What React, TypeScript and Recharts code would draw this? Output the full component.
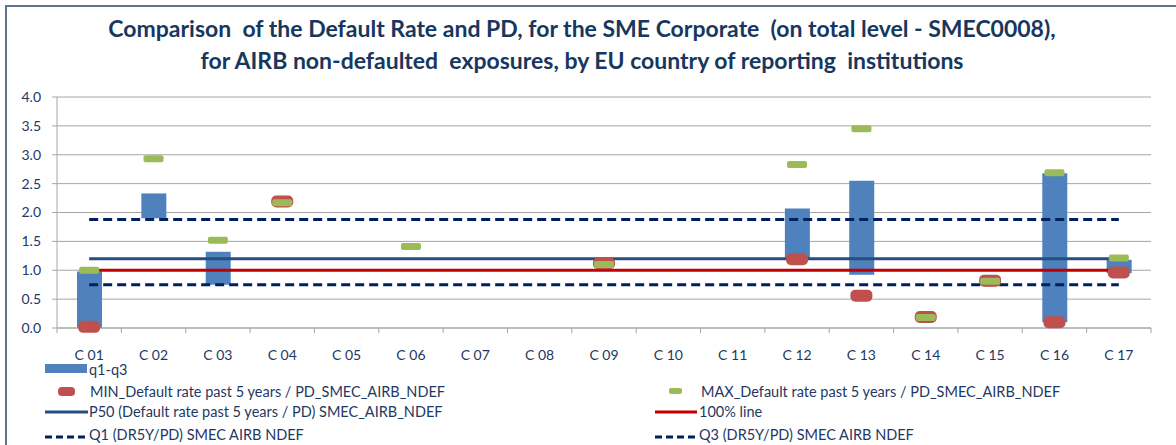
import React from 'react';
import { ComposedChart, Bar, Line, XAxis, YAxis, CartesianGrid } from 'recharts';

const countries = ['C 01', 'C 02', 'C 03', 'C 04', 'C 05', 'C 06', 'C 07', 'C 08', 'C 09', 'C 10', 'C 11', 'C 12', 'C 13', 'C 14', 'C 15', 'C 16', 'C 17'];
const q1Values = [0.0, 1.9, 0.75, null, null, null, null, null, null, null, null, 1.19, 0.92, null, null, 0.1, 0.95];
const q3Values = [0.98, 2.33, 1.32, null, null, null, null, null, null, null, null, 2.07, 2.55, null, null, 2.68, 1.18];
const minValues = [0.02, null, null, 2.19, null, null, null, null, 1.12, null, null, 1.19, 0.56, 0.19, 0.82, 0.1, 0.96];
const maxValues = [1.0, 2.93, 1.52, 2.17, null, 1.41, null, null, 1.1, null, null, 2.83, 3.45, 0.18, 0.81, 2.69, 1.21];
const p50 = 1.2;
const fullLine = 1.0;
const q1Line = 0.75;
const q3Line = 1.88;
const yTicks = [0, 0.5, 1, 1.5, 2, 2.5, 3, 3.5, 4];

const data = countries.map((c, i) => ({
  name: c,
  range: q1Values[i] != null ? [q1Values[i], q3Values[i]] : null,
  min: minValues[i],
  max: maxValues[i],
  p50,
  full: fullLine,
  q1: q1Line,
  q3: q3Line,
}));

const NAVY = '#1f3864';
const FONT = 'Lato, "Open Sans", sans-serif';
const W = 1176;
const H = 445;
const PLOT_LEFT = 57;
const PLOT_RIGHT = 1151;
const BAND = (PLOT_RIGHT - PLOT_LEFT) / countries.length;

const MinDot = (p: any) => {
  if (p.value == null || p.cy == null) return <g key={`mn${p.index}`} />;
  return <rect key={`mn${p.index}`} x={p.cx - 11} y={p.cy - 6} width={22} height={12} rx={5} fill="#c0504d" />;
};

const MaxDot = (p: any) => {
  if (p.value == null || p.cy == null) return <g key={`mx${p.index}`} />;
  return <rect key={`mx${p.index}`} x={p.cx - 10} y={p.cy - 3.5} width={20} height={7} rx={2} fill="#9bbb59" />;
};

const XTick = (p: any) => {
  const axisY = p.y - 5 - 22;
  const last = p.index === countries.length - 1;
  return (
    <g>
      <line x1={p.x - BAND / 2} x2={p.x - BAND / 2} y1={axisY} y2={axisY + 5} stroke="#a6a6a6" />
      {last && <line x1={p.x + BAND / 2} x2={p.x + BAND / 2} y1={axisY} y2={axisY + 5} stroke="#a6a6a6" />}
      <text x={p.x} y={p.y} dy="0.35em" textAnchor="middle" fill={NAVY} fontSize={14} fontFamily={FONT}>
        {p.payload.value}
      </text>
    </g>
  );
};

const legendText: React.CSSProperties = { position: 'absolute', fontSize: 14.5, color: NAVY, fontFamily: FONT, lineHeight: '16px', whiteSpace: 'pre' };

export default function App() {
  return (
    <div style={{ position: 'absolute', left: 0, top: 0, width: W, height: H, background: '#fff', overflow: 'hidden' }}>
      <div style={{ position: 'absolute', left: 5, top: 5, width: W, height: H, borderTop: '2px solid #5b7592', borderLeft: '2px solid #5b7592' }} />
      <div
        style={{
          position: 'absolute', left: 0, top: 12, width: 1164, textAlign: 'center', whiteSpace: 'pre',
          fontFamily: FONT, fontWeight: 700, fontSize: 23, lineHeight: '32px', color: '#17375e',
        }}
      >
        {'Comparison  of the Default Rate and PD, for the SME Corporate  (on total level - SMEC0008),\nfor AIRB non-defaulted  exposures, by EU country of reporting  institutions'}
      </div>
      <div style={{ position: 'absolute', left: 0, top: 0 }}>
        <ComposedChart width={W} height={H} data={data} margin={{ top: 97, right: W - PLOT_RIGHT, bottom: 87, left: 0 }} barSize={25}>
          <CartesianGrid vertical={false} stroke="#a6a6a6" />
          <XAxis dataKey="name" stroke="#a6a6a6" tickLine={false} tickSize={5} tickMargin={22} height={30} tick={<XTick />} interval={0} />
          <YAxis
            width={PLOT_LEFT}
            domain={[0, 4]}
            ticks={yTicks}
            stroke="#a6a6a6"
            tickSize={5}
            tickMargin={11}
            tickFormatter={(v: number) => v.toFixed(1)}
            tick={{ fill: NAVY, fontSize: 14, fontFamily: FONT }}
          />
          <Bar dataKey="range" fill="#4f81bd" isAnimationActive={false} />
          <Line dataKey="p50" stroke="#254e82" strokeWidth={3} dot={false} activeDot={false} isAnimationActive={false} />
          <Line dataKey="full" stroke="#c00000" strokeWidth={3} dot={false} activeDot={false} isAnimationActive={false} />
          <Line dataKey="q1" stroke="#002060" strokeWidth={3} strokeDasharray="9 5" dot={false} activeDot={false} isAnimationActive={false} />
          <Line dataKey="q3" stroke="#002060" strokeWidth={3} strokeDasharray="9 5" dot={false} activeDot={false} isAnimationActive={false} />
          <Line dataKey="min" stroke="none" dot={<MinDot />} activeDot={false} isAnimationActive={false} />
          <Line dataKey="max" stroke="none" dot={<MaxDot />} activeDot={false} isAnimationActive={false} />
        </ComposedChart>
      </div>
      <svg style={{ position: 'absolute', left: 0, top: 0 }} width={W} height={H}>
        <rect x={45} y={364} width={42} height={9} fill="#4f81bd" />
        <rect x={58} y={387} width={17} height={9} rx={4} fill="#c0504d" />
        <line x1={45} x2={88} y1={412} y2={412} stroke="#254e82" strokeWidth={3} />
        <line x1={45} x2={88} y1={437} y2={437} stroke="#002060" strokeWidth={3} strokeDasharray="7 4" />
        <rect x={669} y={388} width={13} height={6} rx={2} fill="#9bbb59" />
        <line x1={655} x2={697} y1={412} y2={412} stroke="#c00000" strokeWidth={3} />
        <line x1={655} x2={697} y1={437} y2={437} stroke="#002060" strokeWidth={3} strokeDasharray="7 4" />
      </svg>
      <div style={{ ...legendText, left: 89, top: 362 }}>q1-q3</div>
      <div style={{ ...legendText, left: 90, top: 384 }}>MIN_Default rate past 5 years / PD_SMEC_AIRB_NDEF</div>
      <div style={{ ...legendText, left: 89, top: 404 }}>P50 (Default rate past 5 years / PD) SMEC_AIRB_NDEF</div>
      <div style={{ ...legendText, left: 89, top: 427 }}>Q1 (DR5Y/PD) SMEC AIRB NDEF</div>
      <div style={{ ...legendText, left: 701, top: 384 }}>MAX_Default rate past 5 years / PD_SMEC_AIRB_NDEF</div>
      <div style={{ ...legendText, left: 699, top: 404 }}>100% line</div>
      <div style={{ ...legendText, left: 699, top: 427 }}>Q3 (DR5Y/PD) SMEC AIRB NDEF</div>
    </div>
  );
}
